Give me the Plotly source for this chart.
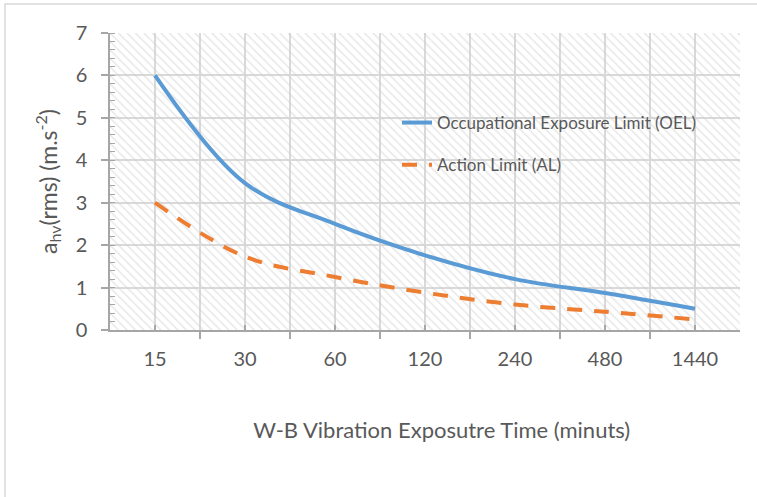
import plotly.graph_objects as go

categories = ["15", "30", "60", "120", "240", "480", "1440"]
oel_values = [6.0, 3.46, 2.5, 1.76, 1.2, 0.87, 0.5]
al_values = [3.0, 1.73, 1.25, 0.88, 0.6, 0.43, 0.25]
y_ticks = [0, 1, 2, 3, 4, 5, 6, 7]

n = len(categories)
xpos = list(range(n))
XR = [-0.5, n - 0.5]
YR = [y_ticks[0], y_ticks[-1]]

FONT = "Lato"
TXT = "#595959"
AXC = "#a6a6a6"
GRID = "#d9d9d9"

W, H = 757, 497
ML, MR, MT, MB = 110, 17, 33, 167
PW, PH = W - ML - MR, H - MT - MB

fig = go.Figure()

# hatched plot-area background
fig.add_trace(go.Scatter(
    x=[XR[0], XR[1], XR[1], XR[0], XR[0]],
    y=[YR[0], YR[0], YR[1], YR[1], YR[0]],
    mode="none", fill="toself", fillcolor="rgba(0,0,0,0)",
    fillpattern=dict(shape="\\", fgcolor="#cfcfcf", bgcolor="rgba(0,0,0,0)",
                     size=6, solidity=0.25),
    hoverinfo="skip", showlegend=False,
))

fig.add_trace(go.Scatter(
    x=xpos, y=oel_values, mode="lines", name="Occupational Exposure Limit (OEL)",
    line=dict(color="#5b9bd5", width=4, shape="spline", smoothing=1.0),
    legendgroup="a",
))
fig.add_trace(go.Scatter(
    x=xpos, y=al_values, mode="lines", name="Action Limit (AL)",
    line=dict(color="#ed7d31", width=4, dash="15px,12px", shape="spline", smoothing=1.0),
    legendgroup="b",
))

fig.update_layout(
    width=W, height=H,
    margin=dict(l=ML, r=MR, t=MT, b=MB),
    paper_bgcolor="white", plot_bgcolor="white",
    font=dict(family=FONT, color=TXT, size=20),
    showlegend=True,
    legend=dict(x=(397 - ML) / PW, y=(330 - 105) / PH, xanchor="left", yanchor="top",
                bgcolor="rgba(0,0,0,0)", font=dict(size=17, color=TXT),
                traceorder="grouped", tracegroupgap=17),
    xaxis=dict(
        range=XR, tickmode="array", tickvals=xpos, ticktext=categories,
        ticks="inside", ticklen=5, tickcolor=AXC, tickwidth=1.5,
        showgrid=True, gridcolor=GRID, gridwidth=1.5,
        showline=True, linecolor=AXC, linewidth=1.5,
        zeroline=False, ticklabelstandoff=10,
        minor=dict(tickmode="array", tickvals=[i - 0.5 for i in range(n + 1)],
                   ticks="outside", ticklen=7, tickcolor=AXC, tickwidth=1.5,
                   showgrid=True, gridcolor=GRID, gridwidth=1.5),
        title=dict(text="&nbsp;" * 6 + "W-B Vibration Exposutre Time (minuts)", standoff=54,
                   font=dict(size=22, color=TXT)),
        tickfont=dict(size=20, color=TXT),
    ),
    yaxis=dict(
        range=YR, tickmode="array", tickvals=y_ticks,
        ticks="outside", ticklen=7, tickcolor=AXC, tickwidth=1.5,
        showgrid=True, gridcolor=GRID, gridwidth=1.5,
        showline=True, linecolor=AXC, linewidth=1.5,
        zeroline=False, ticklabelstandoff=10,
        minor=dict(dtick=0.2, ticks="inside", ticklen=5, tickcolor=AXC, tickwidth=1,
                   showgrid=False),
        title=dict(text="a<sub>hv</sub>(rms) (m.s<sup>-2</sup>)", standoff=12,
                   font=dict(size=23, color=TXT)),
        tickfont=dict(size=20, color=TXT),
    ),
    shapes=[dict(type="rect", xref="paper", yref="paper",
                 x0=(5 - ML) / PW, x1=(W + 60 - ML) / PW,
                 y0=(H - MB - H - 60) / PH, y1=(H - MB - 4) / PH,
                 line=dict(color="#d9d9d9", width=1.5), fillcolor="rgba(0,0,0,0)",
                 layer="below")],
)

fig.write_html("out.html")
